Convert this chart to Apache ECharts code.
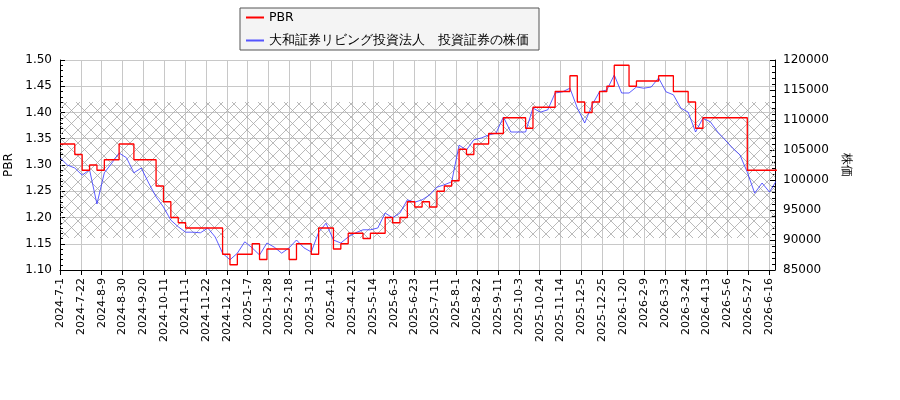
<!DOCTYPE html>
<html><head><meta charset="utf-8">
<script src="https://cdn.jsdelivr.net/npm/echarts@6/dist/echarts.min.js"></script>
<style>html,body{margin:0;padding:0;background:#fff}#c{width:900px;height:400px}</style>
</head><body><div id="c"></div>
<script>
const tickLabels = ["2024-7-1","2024-7-22","2024-8-9","2024-8-30","2024-9-20","2024-10-11","2024-11-1","2024-11-22","2024-12-12","2025-1-7","2025-1-28","2025-2-18","2025-3-11","2025-4-1","2025-4-21","2025-5-14","2025-6-3","2025-6-23","2025-7-11","2025-8-1","2025-8-22","2025-9-11","2025-10-3","2025-10-24","2025-11-14","2025-12-5","2025-12-25","2026-1-20","2026-2-9","2026-3-3","2026-3-24","2026-4-13","2026-5-6","2026-5-27","2026-6-16"];
const price = [103700,102500,102000,100800,101700,96000,101200,102800,104500,103700,
101200,102000,99500,97200,95500,93300,92200,91300,91300,91200,
92000,90500,87800,86700,87800,89700,88700,87500,89500,88800,
87800,88700,90000,88700,88000,91300,92800,90000,89500,90500,
91200,91700,91700,92000,94500,93700,94500,96700,96300,96700,
97500,98800,99200,99700,105800,105000,106700,107000,107500,107800,
110500,108000,108000,108000,112000,111300,111700,114500,114700,115300,
112000,109500,112500,114700,115000,117500,114500,114500,115500,115300,
115500,117000,114700,114200,112000,111300,108000,110300,109700,108000,
106700,105300,104200,101300,97800,99500,98000,100000];
const pbr = [1.34,1.34,1.32,1.29,1.30,1.29,1.31,1.31,1.34,1.34,
1.31,1.31,1.31,1.26,1.23,1.20,1.19,1.18,1.18,1.18,
1.18,1.18,1.13,1.11,1.13,1.13,1.15,1.12,1.14,1.14,
1.14,1.12,1.15,1.15,1.13,1.18,1.18,1.14,1.15,1.17,
1.17,1.16,1.17,1.17,1.20,1.19,1.20,1.23,1.22,1.23,
1.22,1.25,1.26,1.27,1.33,1.32,1.34,1.34,1.36,1.36,
1.39,1.39,1.39,1.37,1.41,1.41,1.41,1.44,1.44,1.47,
1.42,1.40,1.42,1.44,1.45,1.49,1.49,1.45,1.46,1.46,
1.46,1.47,1.47,1.44,1.44,1.42,1.37,1.39,1.39,1.39,
1.39,1.39,1.39,1.29,1.29,1.29,1.29,1.29];
const hatchRange = [1.161, 1.42];
const labelStep = 2.822;   // samples per tick label
const xMax = 96.75;

const cv = document.createElement('canvas'); cv.width = 13; cv.height = 13;
const g = cv.getContext('2d'); g.strokeStyle = '#a8a8a8'; g.lineWidth = 0.8;
g.beginPath(); g.moveTo(0,0); g.lineTo(13,13); g.moveTo(13,0); g.lineTo(0,13); g.stroke();

const font = 'DejaVu Sans';
const chart = echarts.init(document.getElementById('c'));
chart.setOption({
  animation: false,
  textStyle: {fontFamily: font},
  legend: {
    orient: 'vertical', left: 240, top: 8, itemGap: 10,
    backgroundColor: '#f4f4f4', borderColor: '#555', borderWidth: 1, borderRadius: 0,
    padding: [3, 10, 3, 6], itemWidth: 18, itemHeight: 2,
    textStyle: {fontSize: 12.5, color: '#000', fontFamily: font},
    data: [{name: 'PBR', icon: 'rect'}, {name: '大和証券リビング投資法人　投資証券の株価', icon: 'rect'}]
  },
  grid: {left: 60, right: 125, top: 60, bottom: 130, outerBoundsMode: 'none', containLabel: false},
  xAxis: {
    type: 'value', min: 0, max: xMax, interval: labelStep,
    axisLine: {lineStyle: {color: '#000'}}, axisTick: {lineStyle: {color: '#000'}},
    axisLabel: {rotate: 90, fontSize: 11, color: '#000', fontFamily: font,
      formatter: v => tickLabels[Math.round(v / labelStep)] || '', showMaxLabel: false},
    splitLine: {show: true, lineStyle: {color: '#c8c8c8'}}
  },
  yAxis: [{
    type: 'value', min: 1.10, max: 1.50, interval: 0.05, name: 'PBR', nameLocation: 'middle',
    nameGap: 34, nameTextStyle: {fontSize: 12, color: '#000'},
    axisLine: {show: true, lineStyle: {color: '#000'}}, axisTick: {show: true, inside: true},
    minorTick: {show: true, splitNumber: 5, length: 3},
    axisLabel: {fontSize: 12, color: '#000', formatter: v => v.toFixed(2)},
    splitLine: {show: true, lineStyle: {color: '#c8c8c8'}}
  }, {
    type: 'value', min: 85000, max: 120000, interval: 5000, name: '株価', nameLocation: 'middle',
    nameGap: 52, nameRotate: -90, nameTextStyle: {fontSize: 12, color: '#000'},
    axisLine: {show: true, lineStyle: {color: '#000'}}, axisTick: {show: true, inside: true},
    minorTick: {show: true, splitNumber: 5, length: 3},
    axisLabel: {fontSize: 12, color: '#000', formatter: v => String(v)}, splitLine: {show: false}
  }],
  series: [{
    name: 'PBR', type: 'line', step: 'end', yAxisIndex: 0, symbol: 'none',
    lineStyle: {color: '#ff0000', width: 1.3}, itemStyle: {color: '#ff0000'},
    data: pbr.map((v, i) => [i, v]), z: 3,
    markArea: {silent: true, itemStyle: {color: {image: cv, repeat: 'repeat'}},
      data: [[{yAxis: hatchRange[0], x: 60}, {yAxis: hatchRange[1], x: 775}]]}
  }, {
    name: '大和証券リビング投資法人　投資証券の株価', type: 'line', yAxisIndex: 1, symbol: 'none',
    lineStyle: {color: '#3333ff', width: 0.8}, itemStyle: {color: '#5555ff'},
    data: price.map((v, i) => [i, v]), z: 2
  }]
});
</script></body></html>
